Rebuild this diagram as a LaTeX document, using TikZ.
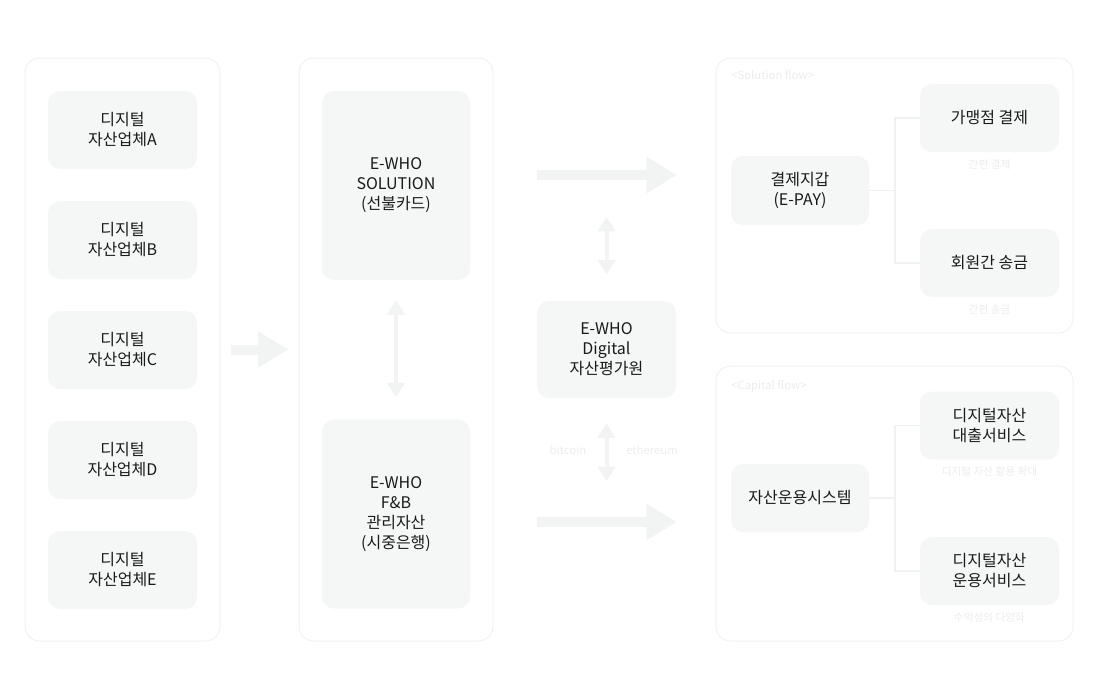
\documentclass[tikz,border=0pt]{standalone}
\usepackage{fontspec}
\setmainfont{Noto Sans CJK KR}
\usetikzlibrary{arrows.meta,positioning,calc}
\definecolor{boxgray}{HTML}{F5F7F7}
\definecolor{framegray}{HTML}{F0F2F2}
\definecolor{arrowgray}{HTML}{F2F4F4}
\definecolor{notegray}{HTML}{EBEDED}
\definecolor{inkblack}{HTML}{1A1A1A}

\begin{document}
\begin{tikzpicture}[x=0.75pt,y=-0.75pt,
    frame/.style={draw=framegray,line width=0.75pt,fill=white,rounded corners=11pt},
    card/.style={fill=boxgray,rounded corners=9pt,align=center,text=inkblack,
      font=\fontsize{12}{15}\selectfont,inner sep=0pt},
    note/.style={text=notegray,font=\fontsize{8}{10}\selectfont,inner sep=0pt},
    bigarrow/.style={draw=arrowgray,line width=7.5pt,-{Triangle[width=26pt,length=23pt]}},
    twoway/.style={draw=arrowgray,line width=3.5pt,{Triangle[width=13pt,length=11pt]}-{Triangle[width=13pt,length=11pt]}},
    link/.style={draw=framegray,line width=1.2pt}]
        \useasboundingbox (0,0) rectangle (1100,700);
        \node[frame,minimum width=146.25pt,minimum height=437.25pt] (leftgrp) at (122.5,349.5) {};
        \node[frame,minimum width=145.5pt,minimum height=437.25pt] (midgrp) at (396,349.5) {};
        \node[frame,minimum width=267.75pt,minimum height=206.25pt] (solgrp) at (894.5,195.5) {};
        \node[frame,minimum width=267.75pt,minimum height=206.25pt] (capgrp) at (894.5,503.5) {};
        \node[card,minimum width=111.75pt,minimum height=58.5pt] (compA) at (122.5,130) {디지털\\자산업체A};
        \node[card,minimum width=111.75pt,minimum height=58.5pt] (compB) at (122.5,240) {디지털\\자산업체B};
        \node[card,minimum width=111.75pt,minimum height=58.5pt] (compC) at (122.5,350) {디지털\\자산업체C};
        \node[card,minimum width=111.75pt,minimum height=58.5pt] (compD) at (122.5,460) {디지털\\자산업체D};
        \node[card,minimum width=111.75pt,minimum height=58.5pt] (compE) at (122.5,570) {디지털\\자산업체E};
        \node[card,minimum width=111pt,minimum height=141.75pt] (solution) at (396,185.5) {E-WHO\\SOLUTION\\(선불카드)};
        \node[card,minimum width=111pt,minimum height=141.75pt] (fnb) at (396,514) {E-WHO\\F\&B\\관리자산\\(시중은행)};
        \node[card,minimum width=104.25pt,minimum height=72.75pt] (eval) at (606.5,349.5) {E-WHO\\Digital\\자산평가원};
        \node[card,minimum width=103.5pt,minimum height=51.75pt] (epay) at (800,190.5) {결제지갑\\(E-PAY)};
        \node[card,minimum width=104.25pt,minimum height=51pt] (shop) at (989.5,118) {가맹점 결제};
        \node[card,minimum width=104.25pt,minimum height=51pt] (remit) at (989.5,263) {회원간 송금};
        \node[card,minimum width=103.5pt,minimum height=51pt] (assets) at (800,498) {자산운용시스템};
        \node[card,minimum width=104.25pt,minimum height=51pt] (loan) at (989.5,425.5) {디지털자산\\대출서비스};
        \node[card,minimum width=104.25pt,minimum height=51pt] (invest) at (989.5,571) {디지털자산\\운용서비스};
        \node[note,font=\fontsize{8.5}{10}\selectfont,anchor=west] (solnote) at (731,75) {<Solution flow>};
        \node[note,font=\fontsize{8.5}{10}\selectfont,anchor=west] (capnote) at (731,386) {<Capital flow>};
        \node[note,below=5pt of shop] (shopnote) {간편 결제};
        \node[note,below=5pt of remit] (remitnote) {간편 송금};
        \node[note,below=5pt of loan] (loannote) {디지털 자산 활용 확대};
        \node[note,below=5pt of invest] (investnote) {수익성의 다양화};
        \node[note,font=\fontsize{8.5}{10}\selectfont] (btc) at (568,450) {bitcoin};
        \node[note,font=\fontsize{8.5}{10}\selectfont] (eth) at (652,450) {ethereum};
        \coordinate (payin) at (537,175);
        \coordinate (payout) at (677,175);
        \coordinate (capin) at (537,522);
        \coordinate (capout) at (677,522);
        \draw[bigarrow] ($(leftgrp.east)+(10,0)$) -- ($(midgrp.west)+(-10,0)$);
        \draw[bigarrow] (payin) -- (payout);
        \draw[bigarrow] (capin) -- (capout);
        \draw[twoway] ($(solution.south)+(0,20)$) -- ($(fnb.north)+(0,-22)$);
        \draw[twoway,line width=3pt] ($(eval.north)+(0,-84)$) -- ($(eval.north)+(0,-26)$);
        \draw[twoway,line width=3pt] ($(eval.south)+(0,25)$) -- ($(eval.south)+(0,83)$);
        \draw[link] (epay.east) -- ++(26,0) |- (shop.west);
        \draw[link] (epay.east) -- ++(26,0) |- (remit.west);
        \draw[link] (assets.east) -- ++(26,0) |- (loan.west);
        \draw[link] (assets.east) -- ++(26,0) |- (invest.west);
      \end{tikzpicture}
\end{document}
